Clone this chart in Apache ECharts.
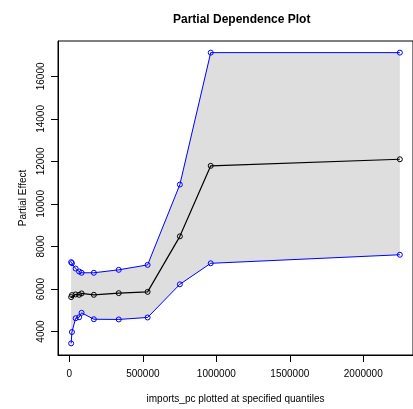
<!DOCTYPE html>
<html>
<head>
<meta charset="utf-8">
<script src="https://cdn.jsdelivr.net/npm/echarts@6/dist/echarts.min.js"></script>
<style>html,body{margin:0;padding:0;background:#fff;}#c{width:413px;height:409px;}</style>
</head>
<body>
<div id="c"></div>
<script>
const xq = [12200, 17600, 42700, 66400, 83300, 166700, 336000, 532500, 752000, 962000, 2249000];
const upper = [7264, 7218, 6963, 6824, 6764, 6764, 6903, 7134, 10913, 17117, 17117];
const pd = [5620, 5713, 5745, 5727, 5792, 5727, 5806, 5866, 8477, 11793, 12102];
const lower = [3444, 3977, 4625, 4671, 4880, 4579, 4569, 4662, 6222, 7209, 7611];
const xTicks = [0, 500000, 1000000, 1500000, 2000000];
const yTicks = [4000, 6000, 8000, 10000, 12000, 14000, 16000];

const font = 'Liberation Sans, Arial, Helvetica, sans-serif';
const pairs = (ys) => xq.map((x, i) => [x, ys[i]]);

const chart = echarts.init(document.getElementById('c'), null, {renderer: 'canvas'});
chart.setOption({
  animation: false,
  backgroundColor: '#ffffff',
  title: {
    text: 'Partial Dependence Plot',
    left: 168, top: 9,
    textStyle: {fontFamily: font, fontSize: 12, fontWeight: 'bold', color: '#000'}
  },
  grid: {
    left: 58, top: 41, width: 357, height: 318,
    show: true, borderColor: '#000', borderWidth: 1, backgroundColor: 'transparent'
  },
  xAxis: {
    type: 'value', min: -77272, max: 2338472,
    name: 'imports_pc plotted at specified quantiles',
    nameLocation: 'middle', nameGap: 39,
    nameTextStyle: {fontFamily: font, fontSize: 10, color: '#000'},
    axisLine: {show: true, onZero: false, lineStyle: {color: '#000', width: 1}},
    splitLine: {show: false},
    axisTick: {show: true, inside: false, length: 7, customValues: xTicks, lineStyle: {color: '#000'}},
    axisLabel: {customValues: xTicks, margin: 14, fontFamily: font, fontSize: 10, color: '#000',
      formatter: v => String(v), showMinLabel: true, showMaxLabel: true}
  },
  yAxis: {
    type: 'value', min: 2897, max: 17664,
    name: 'Partial Effect',
    nameLocation: 'middle', nameGap: 30, nameRotate: 90,
    nameTextStyle: {fontFamily: font, fontSize: 10, color: '#000'},
    axisLine: {show: true, onZero: false, lineStyle: {color: '#000', width: 1}},
    splitLine: {show: false},
    axisTick: {show: true, inside: false, length: 7, customValues: yTicks, lineStyle: {color: '#000'}},
    axisLabel: {customValues: yTicks, rotate: 90, margin: 12, fontFamily: font, fontSize: 10, color: '#000',
      formatter: v => String(v)}
  },
  series: [
    {
      type: 'custom',
      data: [0],
      clip: true,
      silent: true,
      z: 1,
      renderItem: function (params, api) {
        const pts = [];
        for (let i = 0; i < xq.length; i++) pts.push(api.coord([xq[i], upper[i]]));
        for (let i = xq.length - 1; i >= 0; i--) pts.push(api.coord([xq[i], lower[i]]));
        return {type: 'polygon', shape: {points: pts}, style: {fill: '#dedede', stroke: null}};
      }
    },
    {
      type: 'line', data: pairs(upper), z: 2,
      symbol: 'circle', symbolSize: 5, showAllSymbol: true,
      lineStyle: {color: '#0000ff', width: 1},
      itemStyle: {color: 'rgba(0,0,0,0)', borderColor: '#0000ff', borderWidth: 1}
    },
    {
      type: 'line', data: pairs(lower), z: 2,
      symbol: 'circle', symbolSize: 5, showAllSymbol: true,
      lineStyle: {color: '#0000ff', width: 1},
      itemStyle: {color: 'rgba(0,0,0,0)', borderColor: '#0000ff', borderWidth: 1}
    },
    {
      type: 'line', data: pairs(pd), z: 3,
      symbol: 'circle', symbolSize: 5, showAllSymbol: true,
      lineStyle: {color: '#000000', width: 1.2},
      itemStyle: {color: 'rgba(0,0,0,0)', borderColor: '#000000', borderWidth: 1}
    }
  ]
});
</script>
</body>
</html>
